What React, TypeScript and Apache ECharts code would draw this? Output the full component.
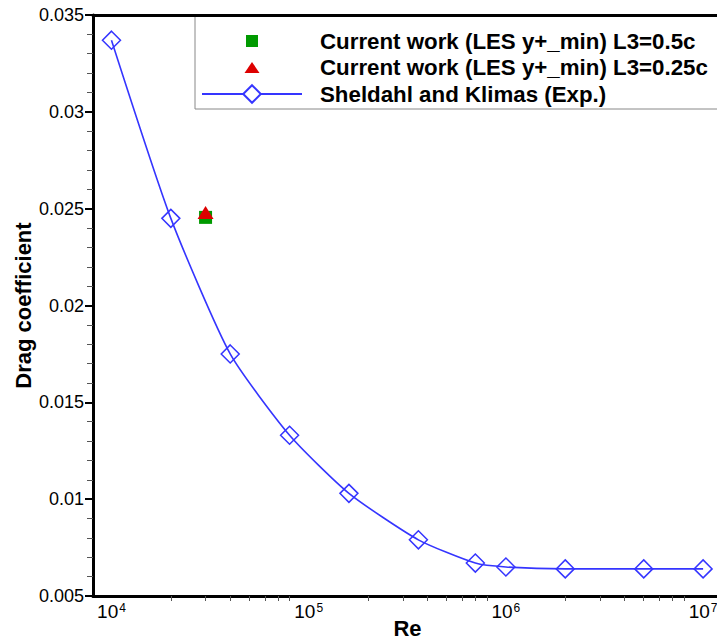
import React, { useEffect, useRef } from "react";
import * as echarts from "echarts";

// ---- data ----
const RE_EXP = [1e4, 2e4, 4e4, 8e4, 1.6e5, 3.6e5, 7e5, 1e6, 2e6, 5e6, 1e7];
const CD_EXP = [0.0337, 0.0245, 0.0175, 0.0133, 0.0103, 0.0079, 0.0067, 0.0065, 0.0064, 0.0064, 0.0064];
const RE_LES = [3e4];
const CD_LES_05 = [0.02455];
const CD_LES_025 = [0.0248];

const NAME_05 = "Current work (LES y+_min) L3=0.5c";
const NAME_025 = "Current work (LES y+_min) L3=0.25c";
const NAME_EXP = "Sheldahl and Klimas (Exp.)";

const X_LABEL_TICKS = [1e4, 1e5, 1e6, 1e7];
const X_MINOR_TICKS = [
  2e4, 3e4, 4e4, 5e4, 6e4, 7e4, 8e4,
  2e5, 3e5, 4e5, 5e5, 6e5, 7e5, 8e5,
  2e6, 3e6, 4e6, 5e6, 6e6, 7e6, 8e6,
];
const X_MIN = 8060;
const X_MAX = 12470000;
const Y_MIN = 0.005;
const Y_MAX = 0.035;
const Y_STEP = 0.005;

const FONT = "'Liberation Sans', Arial, Helvetica, sans-serif";
const BLUE = "#3535ff";
const GREEN = "#009a00";
const RED = "#dd0000";

export default function App() {
  const ref = useRef<HTMLDivElement>(null);
  useEffect(() => {
    if (!ref.current) return;
    const chart = echarts.init(ref.current, null, { renderer: "svg" });
    const pairs = (xs: number[], ys: number[]) => xs.map((x, i) => [x, ys[i]]);
    chart.setOption({
      animation: false,
      backgroundColor: "#fff",
      grid: { left: 93, right: -5, top: 15, bottom: 47, outerBoundsMode: "none", containLabel: false },
      legend: {
        orient: "vertical",
        left: 195,
        top: 15,
        padding: [15, 40, 4, 6],
        itemGap: 4.5,
        itemWidth: 100,
        itemHeight: 22,
        borderColor: "#888",
        borderWidth: 1,
        z: 4,
        textStyle: { fontSize: 22.3, fontWeight: "bold", fontFamily: FONT, color: "#000", padding: [0, 0, 0, 13] },
        data: [
          { name: NAME_05, icon: "path://M0,0M100,22M44,5L56,5L56,17L44,17Z" },
          { name: NAME_025, icon: "path://M0,0M100,22M50,5.5L57.5,16.5L42.5,16.5Z" },
          { name: NAME_EXP, itemStyle: { color: "#fff" } },
        ],
      },
      xAxis: [
        {
          type: "log",
          min: X_MIN,
          max: X_MAX,
          name: "Re",
          nameLocation: "middle",
          nameGap: 21,
          nameMoveOverlap: false,
          nameTextStyle: { fontSize: 22, fontWeight: "bold", fontFamily: FONT, color: "#000" },
          axisLine: { show: true, onZero: false, lineStyle: { color: "#000", width: 3 } },
          axisTick: { show: true, customValues: X_MINOR_TICKS, length: 5, lineStyle: { color: "#555", width: 1 } },
          minorTick: { show: false },
          splitLine: { show: false },
          axisLabel: {
            customValues: X_LABEL_TICKS,
            margin: 6,
            formatter: (v: number) => `{b|10}{s|${Math.round(Math.log10(v))}}`,
            rich: {
              b: { fontSize: 19, fontFamily: FONT, color: "#000" },
              s: { fontSize: 12, fontFamily: FONT, color: "#000", verticalAlign: "top", padding: [0, 0, 0, 1] },
            },
          },
          z: 10,
        },
        {
          type: "value",
          position: "top",
          min: 0,
          max: 1,
          axisLine: { show: true, onZero: false, lineStyle: { color: "#000", width: 3 } },
          axisTick: { show: false },
          axisLabel: { show: false },
          splitLine: { show: false },
          z: 10,
        },
      ],
      yAxis: {
        type: "value",
        min: Y_MIN,
        max: Y_MAX,
        interval: Y_STEP,
        name: "Drag coefficient",
        nameLocation: "middle",
        nameRotate: 90,
        nameGap: 59,
        nameMoveOverlap: false,
        nameTextStyle: { fontSize: 22, fontWeight: "bold", fontFamily: FONT, color: "#000" },
        axisLine: { show: true, onZero: false, lineStyle: { color: "#000", width: 3 } },
        axisTick: { show: true, length: 8, lineStyle: { color: "#000", width: 2 } },
        minorTick: { show: true, splitNumber: 5, length: 6, lineStyle: { color: "#555", width: 1 } },
        splitLine: { show: false },
        axisLabel: { margin: 9, fontSize: 18, fontFamily: FONT, color: "#000" },
        z: 10,
      },
      series: [
        {
          name: NAME_EXP,
          type: "line",
          xAxisIndex: 0,
          data: pairs(RE_EXP, CD_EXP),
          smooth: 0.2,
          symbol: "diamond",
          symbolSize: 18,
          lineStyle: { color: BLUE, width: 1.6 },
          itemStyle: { color: "rgba(255,255,255,0)", borderColor: BLUE, borderWidth: 1.5 },
          z: 2,
        },
        {
          name: NAME_05,
          type: "scatter",
          xAxisIndex: 0,
          data: pairs(RE_LES, CD_LES_05),
          symbol: "rect",
          symbolSize: 13,
          itemStyle: { color: GREEN, opacity: 1 },
          z: 3,
        },
        {
          name: NAME_025,
          type: "scatter",
          xAxisIndex: 0,
          data: pairs(RE_LES, CD_LES_025),
          symbol: "triangle",
          symbolSize: [16, 13],
          itemStyle: { color: RED, opacity: 1 },
          z: 4,
        },
      ],
    });
    return () => chart.dispose();
  }, []);
  return (
    <div
      ref={ref}
      style={{ position: "absolute", left: 0, top: 0, width: 717, height: 643, overflow: "hidden" }}
    />
  );
}
